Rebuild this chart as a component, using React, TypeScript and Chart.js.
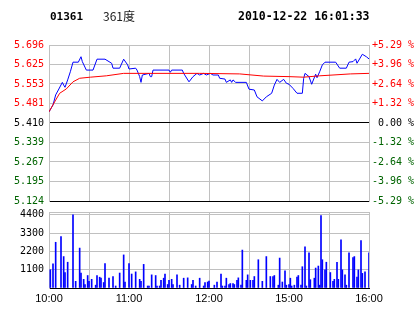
import React, { useEffect, useRef } from 'react';
import { Chart, registerables } from 'chart.js';

Chart.register(...registerables);

// ---- header texts ----
const stockCode = '01361';
const stockName = '361度';
const timestamp = '2010-12-22 16:01:33';

// ---- price axis ----
const priceTicks = [5.124, 5.195, 5.267, 5.339, 5.41, 5.481, 5.553, 5.625, 5.696];
const priceLabels = ['5.124', '5.195', '5.267', '5.339', '5.410', '5.481', '5.553', '5.625', '5.696'];
const pctLabels = ['-5.29 %', '-3.96 %', '-2.64 %', '-1.32 %', ' 0.00 %', '+1.32 %', '+2.64 %', '+3.96 %', '+5.29 %'];

// ---- time axis (minutes since 10:00, trading minutes only) ----
const gridMinutes = [0, 30, 60, 90, 120, 150, 180, 210, 240];
const labelMinutes = [0, 60, 120, 180, 240];
const timeLabels = ['10:00', '11:00', '12:00', '15:00', '16:00'];

// ---- price series ----
const priceMinutes = [
  0, 3, 5, 7, 10, 11, 12, 14, 16, 18, 22, 24, 25, 28, 33, 36, 42, 47, 48, 53, 56, 59, 60, 65, 66, 68,
  69, 70, 75, 76, 77, 78, 90, 91, 92, 100, 101, 105, 108, 111, 113, 116, 118, 121, 123, 127, 128,
  132, 133, 136, 137, 138, 140, 148, 150, 154, 156, 160, 163, 167, 169, 171, 173, 176, 178, 180,
  183, 186, 190, 191, 192, 195, 197, 200, 201, 203, 205, 207, 215, 218, 223, 225, 228, 230, 231,
  235, 238, 240,
];
const prices = [
  5.451, 5.476, 5.513, 5.531, 5.559, 5.549, 5.541, 5.568, 5.598, 5.633, 5.633, 5.653, 5.635, 5.604,
  5.604, 5.644, 5.644, 5.629, 5.611, 5.611, 5.644, 5.623, 5.608, 5.611, 5.604, 5.58, 5.559, 5.586,
  5.592, 5.58, 5.58, 5.604, 5.604, 5.596, 5.604, 5.604, 5.592, 5.561, 5.58, 5.592, 5.586, 5.592,
  5.586, 5.592, 5.586, 5.586, 5.574, 5.571, 5.559, 5.568, 5.559, 5.568, 5.559, 5.559, 5.534, 5.531,
  5.506, 5.491, 5.506, 5.519, 5.549, 5.57, 5.559, 5.57, 5.556, 5.552, 5.537, 5.519, 5.519, 5.574,
  5.592, 5.58, 5.552, 5.589, 5.576, 5.598, 5.623, 5.633, 5.633, 5.611, 5.611, 5.633, 5.635, 5.645,
  5.629, 5.662, 5.653, 5.645,
];

// ---- average price series ----
const avgMinutes = [0, 5, 8, 13, 18, 23, 31, 43, 56, 113, 143, 161, 180, 191, 203, 213, 226, 240];
const avgPrices = [
  5.451, 5.494, 5.519, 5.535, 5.561, 5.574, 5.578, 5.583, 5.592, 5.592, 5.59, 5.582, 5.58, 5.578,
  5.583, 5.586, 5.59, 5.592,
];

// ---- volume ----
const volMax = 4570;
const volTicks = [0, 1100, 2200, 3300, 4400, 4570];
const volLabels = ['', '1100', '2200', '3300', '4400', ''];
const volMinutes = [
  1, 3, 5, 9, 11, 12, 14, 18, 20, 23, 24, 26, 27, 29, 30, 32, 35, 36, 38, 39, 41, 42, 45, 48, 50, 53,
  56, 57, 60, 62, 65, 68, 69, 71, 74, 75, 77, 80, 81, 83, 84, 86, 87, 89, 90, 92, 93, 96, 98, 101,
  104, 107, 108, 110, 113, 116, 117, 119, 120, 124, 126, 129, 130, 132, 133, 135, 136, 138, 139,
  141, 142, 144, 145, 148, 149, 151, 153, 154, 157, 160, 163, 166, 168, 169, 172, 173, 175, 177,
  178, 180, 181, 182, 184, 186, 187, 189, 190, 192, 193, 195, 196, 199, 200, 202, 203, 204, 205,
  207, 208, 211, 213, 214, 216, 217, 219, 220, 222, 223, 225, 228, 229, 231, 232, 234, 235, 237, 240,
];
const volumes = [
  1100, 1450, 2750, 3090, 1890, 930, 1550, 4400, 400, 2400, 900, 520, 210, 750, 400, 520, 170, 750,
  650, 590, 330, 1470, 590, 690, 120, 900, 1990, 360, 1470, 840, 970, 520, 400, 1420, 120, 120, 790,
  750, 120, 120, 460, 590, 840, 210, 460, 520, 210, 790, 170, 590, 610, 210, 460, 120, 590, 120, 330,
  360, 420, 170, 360, 840, 120, 120, 590, 210, 270, 270, 210, 460, 610, 170, 2280, 460, 790, 460,
  460, 690, 1700, 400, 1890, 690, 690, 750, 170, 1800, 360, 1030, 170, 210, 590, 120, 170, 650, 750,
  170, 1280, 2470, 120, 2120, 500, 590, 1200, 1320, 170, 4350, 1700, 1090, 1550, 930, 400, 520, 1550,
  520, 2900, 1090, 790, 170, 2120, 1830, 1890, 650, 1090, 2850, 880, 970, 2120,
];

const RED = '#ff0000';
const GREEN = '#006400';
const BLUE = '#0000ff';
const GRID = '#c0c0c0';
const MONO = 'DejaVu Sans Mono';

const sideColor = (i: number) => (i < 4 ? GREEN : i === 4 ? '#000000' : RED);

const headerPlugin = {
  id: 'header',
  afterDraw(chart: any) {
    const ctx = chart.ctx;
    ctx.save();
    ctx.textBaseline = 'middle';
    ctx.fillStyle = '#000';
    ctx.font = `bold 11px "${MONO}"`;
    ctx.fillText(stockCode, 50, 17);
    ctx.font = `bold 11.5px "${MONO}"`;
    ctx.fillText(timestamp, 238, 17);
    ctx.fillStyle = '#222';
    ctx.font = '12px "Noto Sans CJK SC"';
    ctx.fillText(stockName, 103, 16);
    ctx.restore();
  },
};

export default function App() {
  const priceRef = useRef<HTMLCanvasElement>(null);
  const volRef = useRef<HTMLCanvasElement>(null);

  useEffect(() => {
    const priceChart = new Chart(priceRef.current as HTMLCanvasElement, {
      type: 'line',
      data: {
        datasets: [
          {
            data: avgMinutes.map((m, i) => ({ x: m, y: avgPrices[i] })),
            borderColor: RED,
            borderWidth: 1,
            pointRadius: 0,
            tension: 0,
            yAxisID: 'y',
          },
          {
            data: priceMinutes.map((m, i) => ({ x: m, y: prices[i] })),
            borderColor: BLUE,
            borderWidth: 1,
            pointRadius: 0,
            tension: 0,
            yAxisID: 'y',
          },
        ],
      },
      options: {
        responsive: false,
        animation: false,
        devicePixelRatio: 1,
        layout: { padding: { top: 45, left: 0, right: 0, bottom: 0 } },
        plugins: { legend: { display: false }, tooltip: { enabled: false } },
        scales: {
          x: {
            type: 'linear',
            min: 0,
            max: 240,
            afterBuildTicks: (s: any) => {
              s.ticks = gridMinutes.map((v) => ({ value: v }));
            },
            ticks: { display: false },
            grid: { color: GRID, drawTicks: false },
            border: { display: false },
            afterFit: (s: any) => {
              s.height = 11;
            },
          },
          y: {
            position: 'left',
            min: priceTicks[0],
            max: priceTicks[priceTicks.length - 1],
            afterBuildTicks: (s: any) => {
              s.ticks = priceTicks.map((v) => ({ value: v }));
            },
            ticks: {
              autoSkip: false,
              callback: (_v: any, i: number) => priceLabels[i],
              color: (c: any) => sideColor(c.index),
              font: { family: MONO, size: 10 },
              padding: 5,
            },
            grid: {
              color: (c: any) => (c.index === 0 || c.index === 4 ? '#000000' : GRID),
              drawTicks: false,
            },
            border: { color: GRID },
            afterFit: (s: any) => {
              s.width = 49;
            },
          },
          y2: {
            position: 'right',
            min: priceTicks[0],
            max: priceTicks[priceTicks.length - 1],
            afterBuildTicks: (s: any) => {
              s.ticks = priceTicks.map((v) => ({ value: v }));
            },
            ticks: {
              autoSkip: false,
              callback: (_v: any, i: number) => pctLabels[i],
              color: (c: any) => sideColor(c.index),
              font: { family: MONO, size: 10 },
              padding: 3,
            },
            grid: { display: false, drawTicks: false },
            border: { color: GRID },
            afterFit: (s: any) => {
              s.width = 45;
            },
          },
        },
      },
      plugins: [headerPlugin],
    } as any);

    const volChart = new Chart(volRef.current as HTMLCanvasElement, {
      type: 'bar',
      data: {
        datasets: [
          {
            data: volMinutes.map((m, i) => ({ x: m, y: volumes[i] })),
            backgroundColor: BLUE,
            borderWidth: 0,
            barThickness: 1,
          },
        ],
      },
      options: {
        responsive: false,
        animation: false,
        devicePixelRatio: 1,
        layout: { padding: { top: 8, left: 0, right: 45, bottom: 0 } },
        plugins: { legend: { display: false }, tooltip: { enabled: false } },
        scales: {
          x: {
            type: 'linear',
            min: 0,
            max: 240,
            offset: false,
            afterBuildTicks: (s: any) => {
              s.ticks = gridMinutes.map((v) => ({ value: v }));
            },
            ticks: {
              autoSkip: false,
              maxRotation: 0,
              callback: (v: any) => {
                const k = labelMinutes.indexOf(Number(v));
                return k >= 0 ? timeLabels[k] : '';
              },
              color: '#000',
              font: { family: 'Liberation Sans', size: 11 },
              padding: 4,
            },
            grid: { color: GRID, drawTicks: false, offset: false },
            border: { color: '#000000' },
            afterFit: (s: any) => {
              s.height = 26;
            },
          },
          y: {
            min: 0,
            max: volMax,
            afterBuildTicks: (s: any) => {
              s.ticks = volTicks.map((v) => ({ value: v }));
            },
            ticks: {
              autoSkip: false,
              callback: (_v: any, i: number) => volLabels[i],
              color: '#000',
              font: { family: MONO, size: 10 },
              padding: 5,
            },
            grid: {
              color: (c: any) => (c.index === 0 ? '#000000' : GRID),
              drawTicks: false,
            },
            border: { color: GRID },
            afterFit: (s: any) => {
              s.width = 49;
            },
          },
        },
      },
    } as any);

    return () => {
      priceChart.destroy();
      volChart.destroy();
    };
  }, []);

  return (
    <div style={{ position: 'absolute', left: 0, top: 0, width: 414, height: 314, background: '#ffffff' }}>
      <canvas
        ref={priceRef}
        width={414}
        height={212}
        style={{ position: 'absolute', left: 0, top: 0, width: 414, height: 212 }}
      />
      <canvas
        ref={volRef}
        width={414}
        height={113}
        style={{ position: 'absolute', left: 0, top: 201, width: 414, height: 113 }}
      />
    </div>
  );
}
